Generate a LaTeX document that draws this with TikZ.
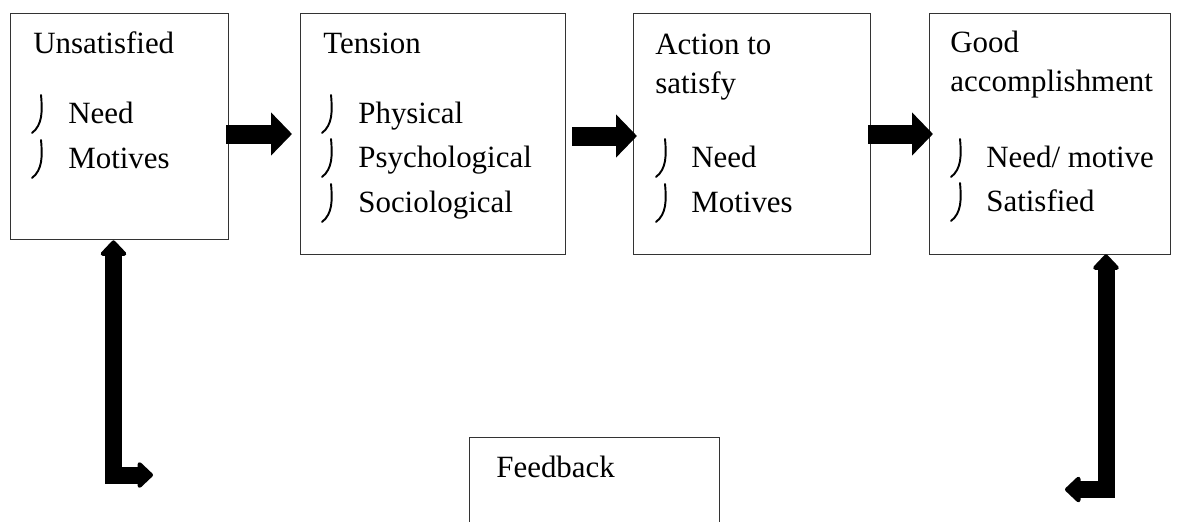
\documentclass[tikz,border=0pt]{standalone}
\usepackage{fontspec}
\setmainfont{Liberation Serif}
\usepackage{tikz}
\usetikzlibrary{arrows.meta,calc,positioning}
\tikzset{
  boxnode/.style={draw=black!80, line width=0.8pt, anchor=north west, inner sep=0pt},
  itemtext/.style={anchor=base west, inner sep=0pt, font=\fontsize{17.6}{21}\selectfont},
  fatarrow/.style={line width=0.38cm, -{Triangle[width=0.84cm,length=0.42cm]}},
  looparrow/.style={line width=0.34cm, {Triangle[round,width=0.6cm,length=0.33cm]}-{Triangle[round,width=0.6cm,length=0.33cm]}},
  hookmark/.pic={\draw[line width=1.1pt, line cap=round] (9,-28) .. controls (10.5,-12) and (10.5,2) .. (0,10);}
}
\begin{document}
\begin{tikzpicture}[x=0.02cm, y=-0.02cm]
  \path[use as bounding box, clip] (0,0) rectangle (1184,521);
  % boxes
  \node[boxnode, minimum width=4.36cm, minimum height=4.52cm] (unsat) at (10,13) {};
  \node[boxnode, minimum width=5.30cm, minimum height=4.82cm] (tension) at (300,13) {};
  \node[boxnode, minimum width=4.74cm, minimum height=4.82cm] (action) at (633,13) {};
  \node[boxnode, minimum width=4.82cm, minimum height=4.82cm] (good) at (929,13) {};
  \node[boxnode, minimum width=5.00cm, minimum height=2.40cm] (feedback) at (469,437) {};
  % titles
  \node[itemtext] (unsat-t) at (33,53) {Unsatisfied};
  \node[itemtext] (tension-t) at (323,53) {Tension};
  \node[itemtext] (action-t1) at (655,54) {Action to};
  \node[itemtext] (action-t2) at (655,93) {satisfy};
  \node[itemtext] (good-t1) at (950,52) {Good};
  \node[itemtext] (good-t2) at (950,91) {accomplishment};
  \node[itemtext] (feedback-t) at (496,477) {Feedback};
  % bullet items
  \foreach \t/\yy [count=\i] in {Need/123, Motives/168}{
    \pic at (32,\yy) {hookmark};
    \node[itemtext] (unsat-\i) at (68,\yy) {\t};
  }
  \foreach \t/\yy [count=\i] in {Physical/123, Psychological/167, Sociological/212}{
    \pic at (322,\yy) {hookmark};
    \node[itemtext] (tension-\i) at (358,\yy) {\t};
  }
  \foreach \t/\yy [count=\i] in {Need/167, Motives/212}{
    \pic at (656,\yy) {hookmark};
    \node[itemtext] (action-\i) at (691,\yy) {\t};
  }
  \foreach \t/\yy [count=\i] in {{Need/ motive}/167, Satisfied/211}{
    \pic at (951,\yy) {hookmark};
    \node[itemtext] (good-\i) at (986,\yy) {\t};
  }
  % arrows between boxes
  \coordinate (row) at (0,134);
  \coordinate (row2) at (0,136);
  \draw[fatarrow] ($(unsat.east |- row)+(-3,0)$) -- ($(tension.west |- row)+(-8,0)$);
  \draw[fatarrow] ($(tension.east |- row2)+(6,0)$) -- ($(action.west |- row2)+(4,0)$);
  \draw[fatarrow] ($(action.east |- row)+(-3,0)$) -- ($(good.west |- row)+(4,0)$);
  % feedback loop arrows
  \coordinate (lcol) at (113.5,0);
  \coordinate (rcol) at (1106,0);
  \coordinate (fbL) at (153,475);
  \coordinate (fbR) at (1065,489.5);
  \draw[looparrow] (fbL) -| (unsat.south -| lcol);
  \draw[looparrow] (fbR) -| ($(good.south -| rcol)+(0,-1)$);
\end{tikzpicture}
\end{document}
